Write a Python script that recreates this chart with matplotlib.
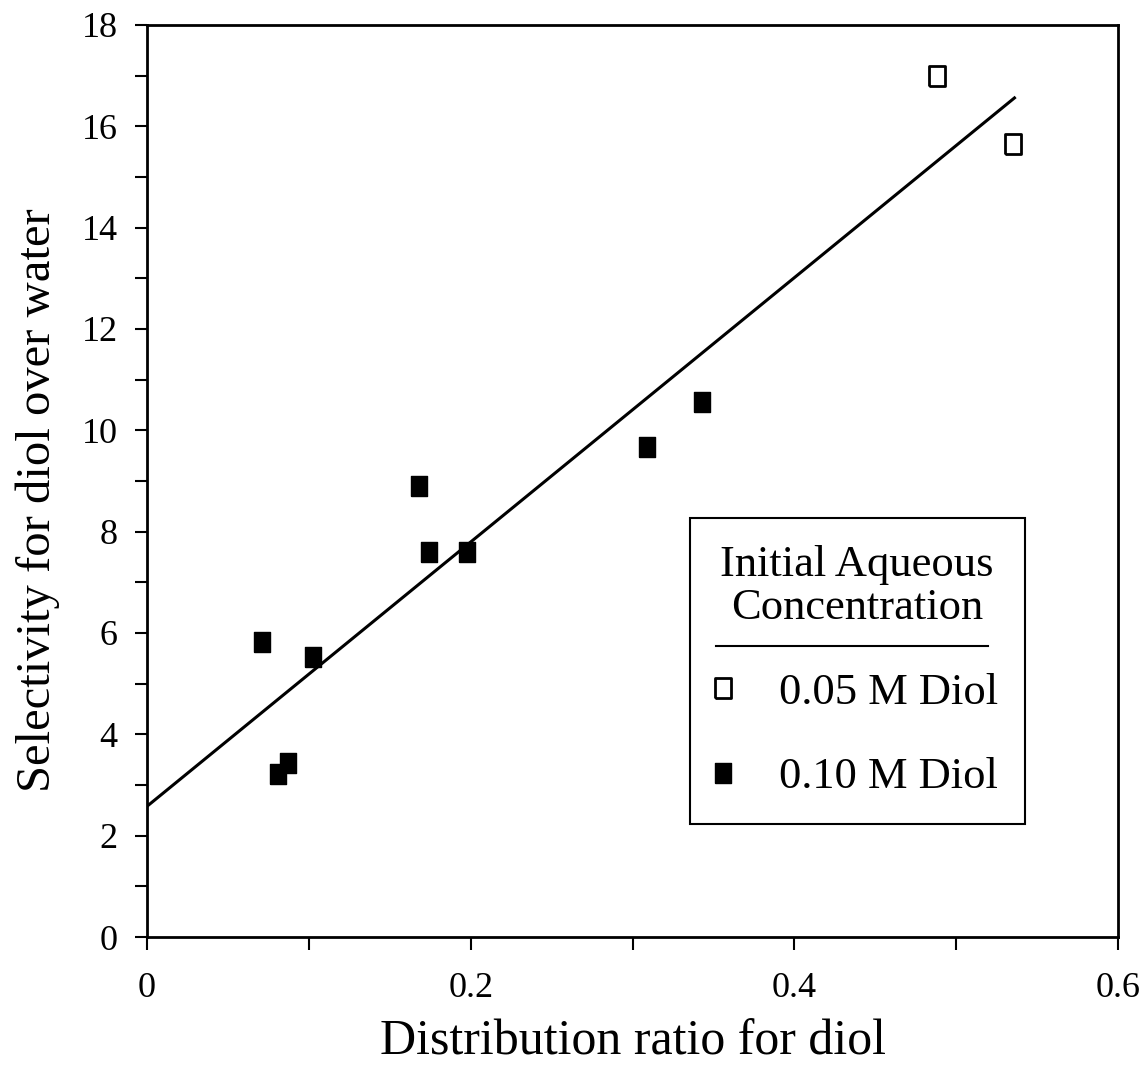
import numpy as np
import matplotlib.pyplot as plt
from matplotlib.lines import Line2D

plt.rcParams["font.family"] = "serif"
plt.rcParams["font.serif"] = ["Liberation Serif", "DejaVu Serif"]

TICKSIZE = 26
LEGSIZE = 32

# 0.05 M diol (open squares)
x_low = [0.488, 0.535]
y_low = [16.99, 15.65]

# 0.10 M diol (filled squares)
x_high = [0.071, 0.081, 0.087, 0.1026, 0.168, 0.174, 0.198, 0.309, 0.343]
y_high = [5.82, 3.22, 3.43, 5.53, 8.9, 7.6, 7.6, 9.67, 10.56]

# fitted line
fit_x = [0.0, 0.536]
fit_y = [2.58, 16.56]

rect = [(-0.4, -0.5), (0.4, -0.5), (0.4, 0.5), (-0.4, 0.5), (-0.4, -0.5)]

fig = plt.figure(figsize=(11.46, 10.71), dpi=100)
ax = fig.add_axes([0.1283, 0.1251, 0.8473, 0.8516])

ax.plot(fit_x, fit_y, color="black", lw=2.2)
ax.plot(x_low, y_low, ls="none", marker=rect, ms=15, mfc="white",
        mec="black", mew=2, label="0.05 M Diol")
ax.plot(x_high, y_high, ls="none", marker=rect, ms=15, mfc="black",
        mec="black", mew=1, label="0.10 M Diol")

ax.set_xlim(0, 0.6)
ax.set_ylim(0, 18)
ax.set_xticks([0, 0.2, 0.4, 0.6])
ax.set_xticklabels(["0", "0.2", "0.4", "0.6"])
ax.set_xticks(np.arange(0, 0.61, 0.1), minor=True)
ax.set_yticks(np.arange(0, 19, 2))
ax.set_yticks(np.arange(0, 19, 1), minor=True)
ax.tick_params(which="both", direction="out", length=9, width=1.5,
               labelsize=TICKSIZE)
ax.tick_params(axis="x", which="both", pad=16)
ax.tick_params(axis="y", which="both", pad=12)

for s in ax.spines.values():
    s.set_linewidth(2)

ax.set_xlabel("Distribution ratio for diol", fontsize=36)
ax.xaxis.set_label_coords(0.5, -0.09)
ax.set_ylabel("Selectivity for diol over water", fontsize=35)
ax.yaxis.set_label_coords(-0.09, 0.479)

leg = ax.legend(title="Initial Aqueous\nConcentration", loc="upper left",
                bbox_to_anchor=(0.559, 0.459), borderaxespad=0,
                fontsize=LEGSIZE, title_fontsize=LEGSIZE, frameon=True,
                fancybox=False, framealpha=1, edgecolor="black",
                handlelength=0.3, handletextpad=1.1, labelspacing=1.0,
                borderpad=0.6, markerfirst=True)
leg.get_frame().set_linewidth(1.5)
leg.get_title().set_multialignment("center")
leg.get_title().set_linespacing(1.1)

ax.add_line(Line2D([0.586, 0.866], [0.319, 0.319], transform=ax.transAxes,
                   color="black", lw=1.5, zorder=10))

plt.savefig("out.png", dpi=100)
